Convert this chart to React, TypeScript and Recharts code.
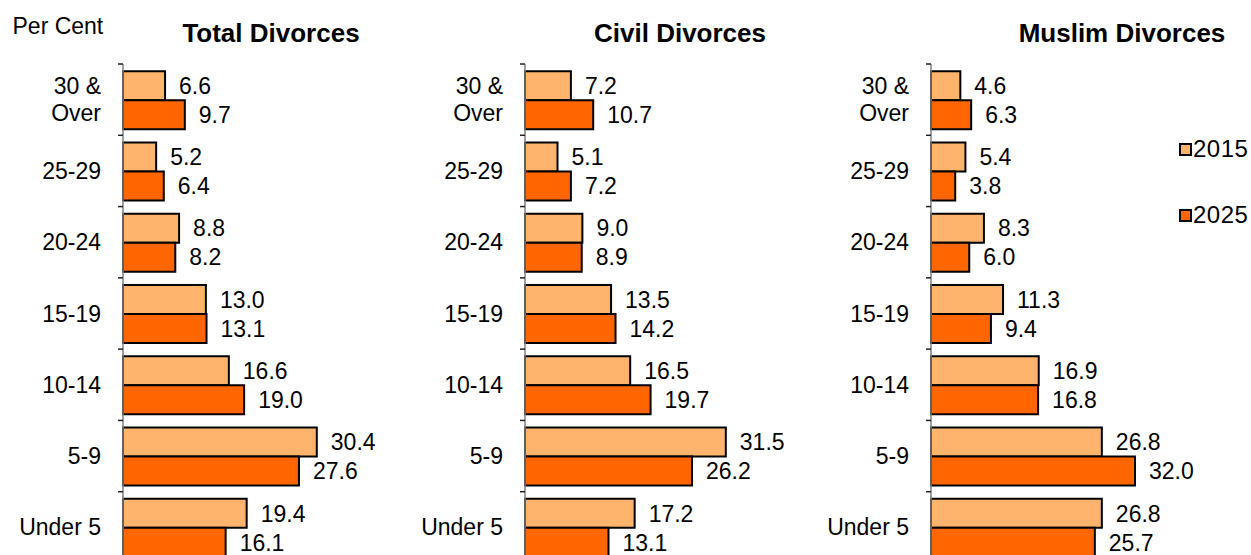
import React from 'react'
import { BarChart, Bar, XAxis, YAxis, LabelList, Legend } from 'recharts'

// categories, top to bottom
const ages = ['30 & Over', '25-29', '20-24', '15-19', '10-14', '5-9', 'Under 5']

const total2015 = [6.6, 5.2, 8.8, 13.0, 16.6, 30.4, 19.4]
const total2025 = [9.7, 6.4, 8.2, 13.1, 19.0, 27.6, 16.1]
const civil2015 = [7.2, 5.1, 9.0, 13.5, 16.5, 31.5, 17.2]
const civil2025 = [10.7, 7.2, 8.9, 14.2, 19.7, 26.2, 13.1]
const muslim2015 = [4.6, 5.4, 8.3, 11.3, 16.9, 26.8, 26.8]
const muslim2025 = [6.3, 3.8, 6.0, 9.4, 16.8, 32.0, 25.7]

const C2015 = '#FFB46E'
const C2025 = '#FF6600'
const FONT = '"Liberation Sans", Arial, sans-serif'

const TOP = 64
const PLOT_H = 499
const PLOT_W = 255
const Y_W = 110
const TICK_MARGIN = 22
const BAND = PLOT_H / ages.length

function AgeTick(props: any) {
  const { x, y, payload, index } = props
  const label: string = payload.value
  const ax = x + TICK_MARGIN
  const amp = label.indexOf('&')
  const lines = amp >= 0 ? [label.slice(0, amp + 1), label.slice(amp + 2)] : [label]
  return (
    <g>
      <line x1={ax - 5} x2={ax} y1={y - BAND / 2} y2={y - BAND / 2} stroke="#222" strokeWidth={1.5} />
      {index === ages.length - 1 && (
        <line x1={ax - 5} x2={ax} y1={y + BAND / 2} y2={y + BAND / 2} stroke="#222" strokeWidth={1.5} />
      )}
      {lines.map((t, i) => (
        <text key={i} x={x} y={y + (i - (lines.length - 1) / 2) * 27} textAnchor="end"
          dominantBaseline="central" fontSize={23} fontFamily={FONT} fill="#000">{t}</text>
      ))}
    </g>
  )
}

function LegendBox() {
  const items = [{ k: '2015', c: C2015 }, { k: '2025', c: C2025 }]
  return (
    <div style={{ fontFamily: FONT, fontSize: 24 }}>
      {items.map((it, i) => (
        <div key={it.k} style={{ display: 'flex', alignItems: 'center', height: 26, marginBottom: i === 0 ? 40 : 0 }}>
          <span style={{ display: 'inline-block', width: 13, height: 13, boxSizing: 'border-box', border: '2px solid #000', background: it.c, marginRight: 1 }} />
          <span style={{ letterSpacing: 0.5 }}>{it.k}</span>
        </div>
      ))}
    </div>
  )
}

interface PanelProps {
  title: string
  a: number[]
  b: number[]
  axisX: number
  titleX: number
  showLegend?: boolean
}

function Panel({ title, a, b, axisX, titleX, showLegend }: PanelProps) {
  const data = ages.map((age, i) => ({ age, y2015: a[i], y2025: b[i] }))
  const left = axisX - Y_W
  const fmt = (v: any) => Number(v).toFixed(1)
  return (
    <div style={{ position: 'absolute', left, top: 0 }}>
      <BarChart width={Y_W + PLOT_W + 60} height={TOP + PLOT_H} data={data} layout="vertical"
        margin={{ top: TOP, right: 60, bottom: 0, left: 0 }} barCategoryGap="10%" barGap={0}>
        <XAxis type="number" domain={[0, 40]} hide />
        <YAxis type="category" dataKey="age" width={Y_W} tickLine={false} tickSize={0} tickMargin={TICK_MARGIN}
          axisLine={{ stroke: '#808080', strokeWidth: 1.5 }} tick={<AgeTick />} interval={0} />
        {showLegend && (
          <Legend layout="horizontal" verticalAlign="middle" align="center" content={() => <LegendBox />}
            wrapperStyle={{ left: 1179 - left, top: 136, width: 80, height: 100 }} />
        )}
        <Bar dataKey="y2015" name="2015" fill={C2015} stroke="#000" strokeWidth={2} isAnimationActive={false}>
          <LabelList dataKey="y2015" position="right" offset={14} formatter={fmt}
            style={{ fontSize: 23, fontFamily: FONT, fill: '#000' }} />
        </Bar>
        <Bar dataKey="y2025" name="2025" fill={C2025} stroke="#000" strokeWidth={2} isAnimationActive={false}>
          <LabelList dataKey="y2025" position="right" offset={14} formatter={fmt}
            style={{ fontSize: 23, fontFamily: FONT, fill: '#000' }} />
        </Bar>
      </BarChart>
      <div style={{ position: 'absolute', top: 18, left: titleX - left - 150, width: 300, textAlign: 'center',
        fontFamily: FONT, fontWeight: 'bold', fontSize: 26, lineHeight: '30px', whiteSpace: 'nowrap' }}>{title}</div>
    </div>
  )
}

export default function App() {
  return (
    <div style={{ width: 1251, height: 555, overflow: 'hidden', position: 'relative', background: '#fff' }}>
      <style>{'body{margin:0}'}</style>
      <div style={{ position: 'absolute', left: 12.5, top: 13, fontFamily: FONT, fontSize: 23, lineHeight: '26px' }}>Per Cent</div>
      <Panel title="Total Divorces" a={total2015} b={total2025} axisX={123} titleX={271} />
      <Panel title="Civil Divorces" a={civil2015} b={civil2025} axisX={525} titleX={680} />
      <Panel title="Muslim Divorces" a={muslim2015} b={muslim2025} axisX={931} titleX={1122} showLegend />
    </div>
  )
}
